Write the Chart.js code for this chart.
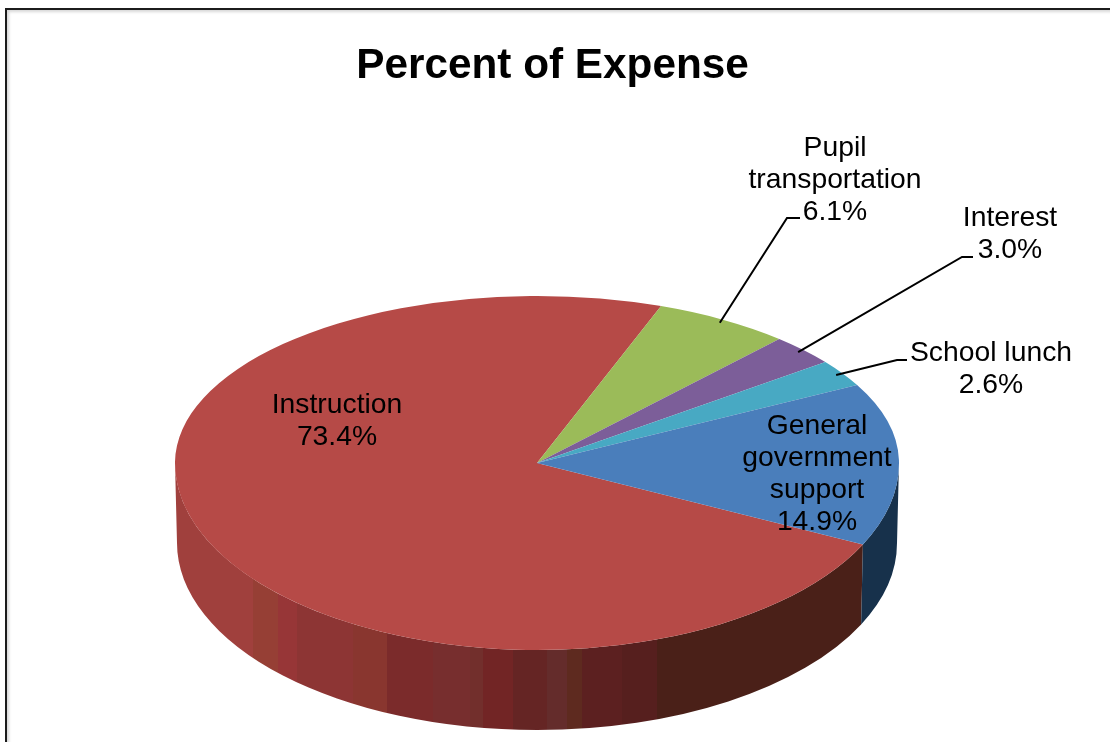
<!DOCTYPE html>
<html>
<head>
<meta charset="utf-8">
<title>Percent of Expense</title>
<script src="https://cdn.jsdelivr.net/npm/chart.js@4"></script>
<style>
    html, body { margin: 0; padding: 0; background: #fff; overflow: hidden; }
    #quadro { position: relative; width: 1110px; height: 742px; overflow: hidden; }
    #moldura {
        position: absolute; left: 5px; top: 8px; width: 1200px; height: 900px;
        border-left: 2px solid #1c1c1c; border-top: 2px solid #1c1c1c;
        box-shadow: inset 3px 3px 3px -1px #d8d8d8;
    }
    canvas { position: absolute; left: 0; top: 0; }
</style>
</head>
<body>
<div id="quadro">
    <div id="moldura"></div>
    <canvas id="graficoDespesas" width="1110" height="742"></canvas>
</div>
<script>
// Chart values
const categorias = ['Instruction', 'Pupil transportation', 'Interest', 'School lunch', 'General government support'];
const percentuais = [73.4, 6.1, 3.0, 2.6, 14.9];

// Label text, broken the way it is printed
const linhasRotulos = [['Instruction'], ['Pupil', 'transportation'], ['Interest'], ['School lunch'], ['General', 'government', 'support']];

// Slice colours: top face and side wall
const coresTopo = ['#b64a47', '#9bbb59', '#7c5e99', '#48a9c3', '#4a7ebb'];
const coresParede = ['#4a2018', '#5e6f35', '#4a3860', '#2b6b7c', '#17314b'];

// Colour bands along the red wall: [x where the band ends, colour]
const faixasParede = [
    [253, '#a0403d'], [278, '#963f35'], [297, '#973637'], [353, '#8d3534'],
    [387, '#89362f'], [433, '#7b2b2b'], [470, '#772e2e'], [483, '#722f2c'],
    [513, '#722525'], [547, '#652524'], [567, '#642c2b'], [582, '#5e2a1f'],
    [622, '#5c2020'], [657, '#561f1e'], [900, '#4a2018']
];

// Pie placement on the page
const centroX = 537;
const centroY = 463;
const raio = 362;
const achatamentoCima = 167 / raio;   // back half looks shorter
const achatamentoBaixo = 187 / raio;  // front half looks taller
const alturaParede = 80;

// Label placement: x centre, y of the first line, and the leader elbow when there is one
const layoutRotulos = [
    { x: 337, y: 405 },
    { x: 835, y: 148, cotovelo: [787, 218], fim: 800 },
    { x: 1010, y: 218, cotovelo: [962, 257], fim: 973 },
    { x: 991, y: 353, cotovelo: [897, 360], fim: 907 },
    { x: 817, y: 426 }
];

// Side wall of one slice, only the part that faces the front
function desenharParede(ctx, arco, cor) {
    const voltas = [-2 * Math.PI, 0, 2 * Math.PI];
    voltas.forEach(volta => {
        const inicio = Math.max(arco.startAngle + volta, 0);
        const fim = Math.min(arco.endAngle + volta, Math.PI);
        if (fim <= inicio) {
            return;
        }
        ctx.beginPath();
        ctx.ellipse(centroX, centroY, raio, raio * achatamentoBaixo, 0, inicio, fim);
        ctx.ellipse(centroX, centroY + alturaParede, raio - 2, raio * achatamentoBaixo, 0, fim, inicio, true);
        ctx.closePath();
        ctx.fillStyle = cor;
        ctx.fill();
    });
}

// Hard-edged horizontal gradient for the big red wall
function criarGradienteFaixas(ctx) {
    const xIni = centroX - raio;
    const largura = 2 * raio;
    const gradiente = ctx.createLinearGradient(xIni, 0, xIni + largura, 0);
    let anterior = 0;
    faixasParede.forEach(([xFim, cor]) => {
        const fim = Math.min((xFim - xIni) / largura, 1);
        gradiente.addColorStop(anterior, cor);
        gradiente.addColorStop(fim, cor);
        anterior = fim;
    });
    return gradiente;
}

// Draws the arcs of the pie inside a horizontal band, flattened by the given factor
function desenharMetade(ctx, arcos, yClip, alturaClip, achatamento) {
    ctx.save();
    ctx.beginPath();
    ctx.rect(0, yClip, 1110, alturaClip);
    ctx.clip();
    ctx.translate(centroX, centroY);
    ctx.scale(1, achatamento);
    ctx.translate(-arcos[0].x, -arcos[0].y);
    arcos.forEach(arco => arco.draw(ctx));
    ctx.restore();
}

// Turns the flat pie into the tilted disc
const pluginDisco = {
    id: 'disco',
    beforeDatasetsDraw(chart) {
        const ctx = chart.ctx;
        const arcos = chart.getDatasetMeta(0).data;

        arcos.forEach((arco, indice) => {
            const cor = indice === 0 ? criarGradienteFaixas(ctx) : coresParede[indice];
            desenharParede(ctx, arco, cor);
        });

        desenharMetade(ctx, arcos, 0, centroY + 0.5, achatamentoCima);
        desenharMetade(ctx, arcos, centroY, 742 - centroY, achatamentoBaixo);
        return false; // the default flat drawing is not wanted
    },
    afterDraw(chart) {
        const ctx = chart.ctx;
        const arcos = chart.getDatasetMeta(0).data;

        ctx.save();
        ctx.font = '28.3px "Liberation Sans", Arial, sans-serif';
        ctx.textAlign = 'center';
        ctx.textBaseline = 'middle';
        ctx.fillStyle = '#000';
        ctx.strokeStyle = '#000';
        ctx.lineWidth = 2;

        layoutRotulos.forEach((rotulo, indice) => {
            const linhas = linhasRotulos[indice].concat(percentuais[indice].toFixed(1) + '%');
            linhas.forEach((texto, n) => ctx.fillText(texto, rotulo.x, rotulo.y + n * 32));

            // Leader line from the rim of the slice to the label
            if (rotulo.cotovelo) {
                const arco = arcos[indice];
                const meio = (arco.startAngle + arco.endAngle) / 2;
                const xArco = centroX + 0.98 * raio * Math.cos(meio);
                const yArco = centroY + 0.98 * raio * achatamentoCima * Math.sin(meio);
                ctx.beginPath();
                ctx.moveTo(xArco, yArco);
                ctx.lineTo(rotulo.cotovelo[0], rotulo.cotovelo[1]);
                ctx.lineTo(rotulo.fim, rotulo.cotovelo[1]);
                ctx.stroke();
            }
        });
        ctx.restore();
    }
};

new Chart(document.getElementById('graficoDespesas').getContext('2d'), {
    type: 'pie',
    data: {
        labels: categorias,
        datasets: [{
            data: percentuais,
            backgroundColor: coresTopo,
            borderWidth: 0
        }]
    },
    options: {
        responsive: false,
        animation: false,
        rotation: 115.8,
        radius: raio,
        layout: { padding: { right: 5 } },
        plugins: {
            legend: { display: false },
            tooltip: { enabled: false },
            title: {
                display: true,
                text: 'Percent of Expense',
                color: '#000',
                font: { family: '"Liberation Sans", Arial, sans-serif', size: 42.3, weight: 'bold' },
                padding: { top: 41, bottom: 10 }
            }
        }
    },
    plugins: [pluginDisco]
});
</script>
</body>
</html>
